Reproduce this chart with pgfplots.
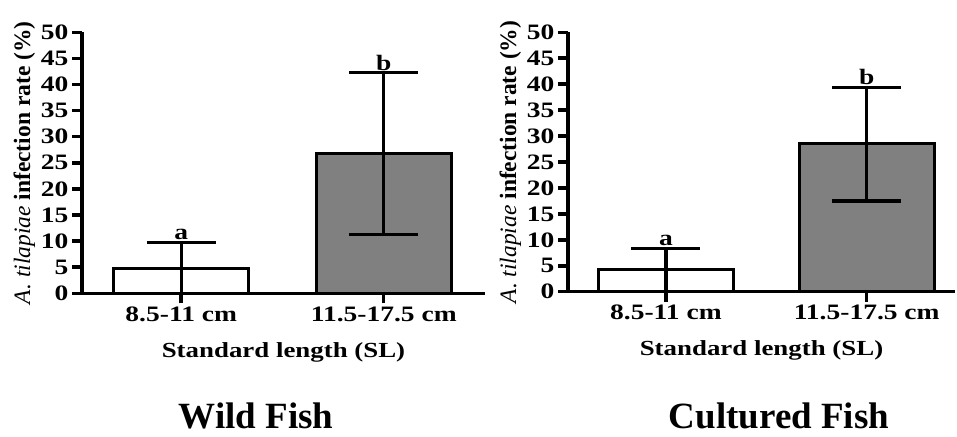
\documentclass[border=0pt]{standalone}
\usepackage{fontspec}
\setmainfont{Liberation Serif}[FakeStretch=1.25]
\newfontfamily\plainserif{Liberation Serif}
\usepackage{pgfplots}
\pgfplotsset{compat=1.18}
\definecolor{bargray}{RGB}{128,128,128}
\pgfplotsset{panel/.style={
  scale only axis,
  anchor=south west,
  clip=false,
  axis x line=bottom, axis y line=left,
  axis line style={line width=3.5pt, -},
  ymin=0, ymax=50, ytick={0,5,...,50},
  xtick={0,1}, xticklabels={8.5-11 cm, 11.5-17.5 cm},
  tick style={draw=black, line width=3.5pt},
  major tick length=10pt,
  tick align=outside,
  ticklabel style={font=\fontsize{22}{22}\selectfont\bfseries},
  /pgf/number format/assume math mode=true,
  xlabel={Standard length (SL)},
  xlabel style={font=\fontsize{21.5}{21.5}\selectfont\bfseries, yshift=-14pt},
  ylabel={\itshape A. tilapiae \bfseries\upshape infection rate (\%)},
  ylabel style={font=\plainserif\fontsize{23.5}{23.5}\selectfont, yshift=-1pt},
  mybar/.style={ybar, bar width=135pt, bar shift=0pt, draw=black, line width=3.2pt,
    error bars/y dir=both, error bars/y explicit,
    error bars/error bar style={line width=3.2pt, black},
    error bars/error mark options={line width=3.2pt, black, mark size=34.5pt, rotate=90}},
}}
\begin{document}
\begin{tikzpicture}
\path (0,0) rectangle (957pt,436pt);
% Wild fish
\begin{axis}[panel, at={(82pt,142.7pt)}, width=403pt, height=261pt, xmin=-0.49, xmax=1.5]
\addplot[mybar, fill=white] coordinates {(0,4.8) += (0,5.0) -= (0,4.8)};
\addplot[mybar, fill=bargray] coordinates {(1,26.8) +- (0,15.5)};
\pgfplotsinvokeforeach{0,5,...,50}{\draw[line width=3.5pt] (axis cs:-0.49,#1) -- (axis cs:-0.5394,#1);}
\pgfplotsinvokeforeach{0,1}{\draw[line width=3.5pt] (axis cs:#1,0) -- (axis cs:#1,-1.92);}
\node[font=\bfseries\fontsize{22}{22}\selectfont, above, inner sep=2pt] at (axis cs:0,9.8) {a};
\node[font=\bfseries\fontsize{22}{22}\selectfont, above, inner sep=2pt] at (axis cs:1,42.3) {b};
\end{axis}
% Cultured fish
\begin{axis}[panel, at={(568pt,144.3pt)}, width=387pt, height=259.4pt, xmin=-0.488, xmax=1.44]
\addplot[mybar, fill=white] coordinates {(0,4.3) += (0,4.1) -= (0,4.3)};
\addplot[mybar, fill=bargray] coordinates {(1,28.5) += (0,10.9) -= (0,11.0)};
\pgfplotsinvokeforeach{0,5,...,50}{\draw[line width=3.5pt] (axis cs:-0.488,#1) -- (axis cs:-0.5378,#1);}
\pgfplotsinvokeforeach{0,1}{\draw[line width=3.5pt] (axis cs:#1,0) -- (axis cs:#1,-1.93);}
\node[font=\bfseries\fontsize{22}{22}\selectfont, above, inner sep=2pt] at (axis cs:0,8.4) {a};
\node[font=\bfseries\fontsize{22}{22}\selectfont, above, inner sep=2pt] at (axis cs:1,39.4) {b};
\end{axis}
\node[font=\plainserif\bfseries\fontsize{37}{37}\selectfont, anchor=base, inner sep=0pt] at (256pt,8pt) {Wild Fish};
\node[font=\plainserif\bfseries\fontsize{37}{37}\selectfont, anchor=base, inner sep=0pt] at (779pt,8pt) {Cultured Fish};
\end{tikzpicture}
\end{document}
